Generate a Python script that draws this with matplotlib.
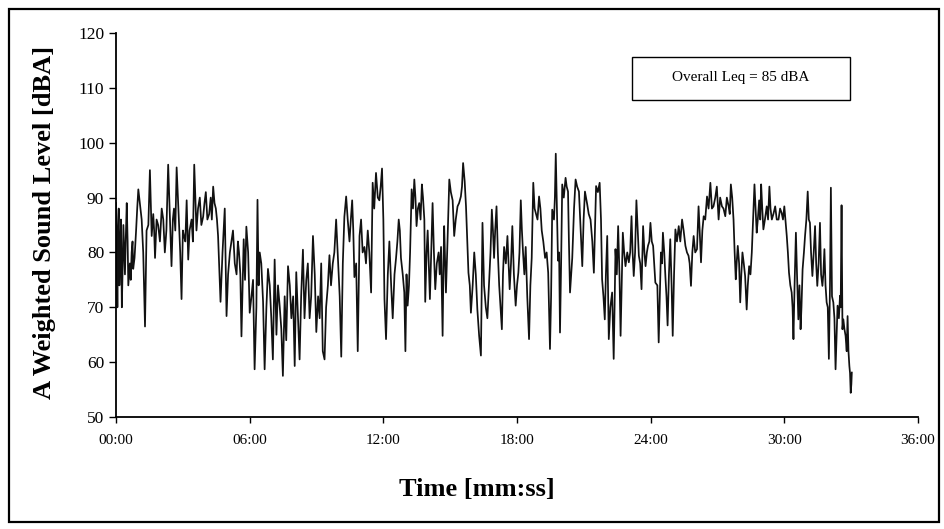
import numpy as np
import matplotlib
matplotlib.use("Agg")
import matplotlib.pyplot as plt
from matplotlib.patches import Rectangle

# sound level trace: time in minutes, level in dBA
# first pass: the spikes and dips
time_min = [
    0.00, 0.06, 0.12, 0.18, 0.26, 0.33, 0.40, 0.48, 0.55, 0.70, 0.77, 0.90,
    1.00, 1.15, 1.22, 1.30, 1.37, 1.52, 1.67, 1.75, 1.89, 2.05, 2.19, 2.34,
    2.49, 2.60, 2.72, 2.83, 2.94, 3.05, 3.17, 3.24, 3.39, 3.51, 3.61, 3.76,
    3.91, 4.03, 4.18, 4.36, 4.48, 4.58, 4.69, 4.88, 4.96, 5.11, 5.25, 5.41,
    5.52, 5.63, 5.73, 5.85, 6.00, 6.15, 6.22, 6.35, 6.45, 6.60, 6.67, 6.82,
    6.97, 7.04, 7.12, 7.27, 7.49, 7.57, 7.72, 7.87, 8.02, 8.09, 8.24, 8.39,
    8.54, 8.69, 8.84, 8.99,
    9.21, 9.28, 9.36, 9.51, 9.58, 9.73, 9.88, 9.96, 10.11, 10.25, 10.33, 10.48,
    10.60, 10.70, 10.85, 10.93, 11.00, 11.15, 11.30, 11.45, 11.52, 11.67, 11.82,
    11.94, 12.05, 12.12, 12.27, 12.42, 12.57, 12.69, 12.79, 12.94, 12.99, 13.09,
    13.20, 13.27, 13.39, 13.49, 13.61, 13.73, 13.84, 13.88, 13.99, 14.09, 14.21,
    14.33, 14.48, 14.59, 14.66, 14.73, 14.81, 14.96, 15.11, 15.18, 15.33, 15.48,
    15.58, 15.71, 15.82, 15.93, 16.08, 16.22, 16.30, 16.38, 16.45, 16.52, 16.67,
    16.75, 16.87, 16.97, 17.08, 17.20, 17.32, 17.42, 17.57, 17.67, 17.79, 17.94,
    18.06, 18.17, 18.27, 18.39, 18.54, 18.66, 18.73, 18.84, 18.99, 19.11, 19.26,
    19.40, 19.48, 19.58, 19.66, 19.74, 19.84, 19.93, 20.03, 20.18, 20.29, 20.38,
    20.48, 20.63, 20.78, 20.93, 21.05, 21.15, 21.30, 21.45, 21.55, 21.71, 21.82,
    21.94, 22.05, 22.12, 22.27, 22.34, 22.42, 22.54, 22.65, 22.75, 22.87, 23.02,
    23.14, 23.24, 23.36, 23.47, 23.59, 23.66, 23.77, 23.88, 23.99, 24.11, 24.21,
    24.36, 24.46, 24.55, 24.66, 24.76, 24.88, 24.99, 25.11, 25.26, 25.41, 25.56,
    25.70, 25.81, 25.93, 26.08, 26.15, 26.26, 26.38, 26.53, 26.68, 26.82, 26.97,
    27.05, 27.20, 27.35, 27.50, 27.60, 27.72, 27.82, 27.91, 28.02, 28.12, 28.24,
    28.31, 28.42, 28.54, 28.66, 28.76, 28.87, 28.96, 29.06, 29.21, 29.33, 29.44,
    29.59, 29.74, 29.88, 30.00, 30.11, 30.21, 30.33, 30.41, 30.52, 30.63, 30.73,
    30.82, 30.93, 31.05, 31.15, 31.26, 31.38, 31.48, 31.60, 31.71, 31.80, 31.90,
    32.00, 32.09, 32.20, 32.30, 32.39, 32.50, 32.57, 32.65, 32.75, 32.84, 32.92,
    32.98, 33.03,
]
level_dba = [
    89, 70, 88, 78.7, 70, 85, 76, 89, 74, 80, 77, 84,
    91.5, 86, 80, 66.5, 84, 95, 87, 79, 85, 88, 80, 96,
    77.5, 88, 95.5, 85, 71.5, 83, 89.5, 78.7, 86, 96, 84, 90,
    86.5, 91, 87, 92, 88, 83, 71, 88, 68.4, 80, 84, 76,
    80, 64.7, 82.4, 84.7, 69, 75, 58.7, 89.6, 80, 71, 58.7, 77,
    68, 60.5, 78.7, 74, 57.5, 72, 77.5, 68, 59.3, 76.4, 60.5, 80.5,
    75, 68, 83, 65.5,
    78, 62, 60.5, 74, 79.5, 78, 86, 79, 61, 86.5, 90.2, 82,
    89.5, 75.5, 62, 83, 86, 81, 84, 72.7, 92.7, 94.5, 89.5,
    95.3, 71.5, 64.2, 82, 68, 79, 86, 79, 72.7, 62, 70.3,
    80, 91.5, 93.3, 84.8, 89, 92.4, 86, 71, 84, 71.5, 89,
    73.3, 80, 81, 64.8, 84.8, 72.7, 93.3, 89.5, 83, 88.4, 90.2,
    96.3, 88.4, 76.3, 69, 80, 69.6, 64.8, 61.2, 85.4, 74, 68,
    75.1, 87.8, 79, 88.4, 74, 66, 81, 83, 73.3, 84.8, 70.3,
    76.3, 89.5, 80, 81, 64.2, 79, 92.7, 87.2, 90.2, 84, 79,
    76.3, 62.4, 87.8, 86, 98, 78.5, 65.4, 92.4, 93.6, 91.1, 72.7,
    79, 93.3, 91.1, 77.5, 91.1, 88.8, 86, 76.3, 92.1, 92.7, 75.1,
    67.8, 83, 64.2, 72.7, 60.6, 80.6, 84.8, 64.8, 83.6, 77.5, 78.2,
    86.6, 75.7, 89.5, 79.4, 73.3, 84.8, 77.5, 81.2, 85.4, 81.2, 74.5,
    63.6, 80, 83.6, 75.7, 66.7, 82.4, 64.8, 84.2, 84.8, 86, 81.2,
    79.4, 73.9, 83, 80.6, 88.4, 78.2, 86.6, 90.2, 92.7, 88.4, 92,
    86, 88.4, 86.6, 88.4, 92.4, 86, 75.1, 81.2, 70.9, 80, 75.7,
    69.6, 77.5, 80, 92.4, 83.6, 89.5, 92.4, 84.2, 88.4, 92, 86,
    88.4, 86, 87.2, 88.4, 83, 76.3, 72.7, 64.2, 83.6, 67.8, 66,
    76.9, 83, 91.1, 85.4, 75.7, 84.8, 73.9, 85.4, 73.9, 80.6, 70.9,
    60.6, 91.8, 70.9, 58.7, 70.3, 72.1, 88.6, 67.8, 64.8, 68.4, 59.3,
    54.4, 58.1,
]

# second pass: readings inside the dark band between the spikes
band_time_min = [
    0.03, 0.09, 0.15, 0.22, 0.30, 0.37, 0.44, 0.52, 0.62, 0.66, 0.74, 0.83, 0.95,
    1.45, 1.60, 1.71, 1.82, 1.97, 2.12, 2.26,
    2.55, 2.66, 2.78, 2.88, 3.00, 3.11, 3.30, 3.45,
    3.68, 3.83, 3.97, 4.10, 4.25, 4.30, 4.42, 4.53,
    4.78, 5.03, 5.18, 5.33, 5.47, 5.58, 5.79, 5.93,
    6.08, 6.30, 6.40, 6.52, 6.75, 6.90, 7.08, 7.20, 7.35, 7.42, 7.64, 7.80,
    7.95, 8.15, 8.31, 8.46, 8.61, 8.76, 8.92,
    9.07, 9.14, 9.43, 9.65, 9.80, 10.04, 10.18, 10.40, 10.54, 10.65, 10.78,
    11.07, 11.22, 11.37, 11.59, 11.75, 11.88, 12.00,
    12.20, 12.35, 12.50, 12.63, 12.74, 12.87, 13.04, 13.15, 13.33, 13.44, 13.55,
    13.67, 13.78, 13.94, 14.04, 14.15, 14.27, 14.40, 14.53, 14.70, 14.88, 15.03,
    15.25, 15.40, 15.53, 15.65,
    15.88, 16.01, 16.15, 16.60, 16.81, 16.92, 17.02, 17.14, 17.26, 17.37, 17.50,
    17.62, 17.73, 17.86, 18.00,
    18.11, 18.22, 18.33, 18.46, 18.60, 18.79, 18.92, 19.05, 19.18, 19.33, 19.53,
    19.70, 19.79, 19.89, 19.98, 20.10, 20.23, 20.33, 20.43, 20.56, 20.70, 20.86,
    20.99, 21.10, 21.22, 21.38,
    21.50, 21.63, 21.77, 21.88, 21.99, 22.19, 22.38, 22.48, 22.60, 22.70, 22.81,
    22.95, 23.08, 23.19, 23.30, 23.42, 23.53, 23.72, 23.83, 23.94, 24.05, 24.16,
    24.30, 24.41, 24.51, 24.61, 24.71, 24.82, 24.94, 25.05, 25.18, 25.33, 25.48,
    25.63, 25.75, 25.87, 26.00, 26.20, 26.32, 26.45, 26.60, 26.75, 26.90,
    27.12, 27.27, 27.42, 27.55, 27.66, 27.77, 27.86, 27.97, 28.07, 28.18, 28.36,
    28.48, 28.60, 28.71, 28.81, 28.92, 29.01, 29.13, 29.27, 29.38, 29.51, 29.66,
    29.81, 29.94, 30.05,
    30.16, 30.27, 30.37, 30.46, 30.57, 30.68, 30.77, 30.88, 30.99, 31.10, 31.20,
    31.32, 31.43, 31.54, 31.65, 31.75, 31.85, 31.95, 32.05, 32.14, 32.25, 32.34,
    32.45, 32.53, 32.61, 32.70, 32.80, 32.88, 32.95, 33.01,
]
band_level_dba = [
    82, 84, 74, 86, 78, 80, 83, 82, 78, 75, 82, 79, 88,
    85, 83, 84, 86, 82, 86, 84,
    86, 84, 90, 80, 84, 82, 84, 82,
    88, 85, 89, 86, 90, 86, 89, 86,
    80, 76, 82, 78, 82, 76, 75, 80,
    72, 70, 74, 78, 70, 74, 70, 65, 70, 66, 64, 74,
    72, 70, 72, 68, 78, 72, 76,
    72, 68, 70, 74, 80, 72, 78, 86, 86, 84, 78,
    80, 78, 80, 88, 90, 92, 86,
    76, 74, 76, 82, 84, 76, 76, 74, 88, 90, 88,
    86, 90, 80, 78, 80, 80, 78, 76, 78, 82, 91,
    86, 89, 92, 93,
    74, 74, 76, 70, 80, 84, 84, 80, 70, 76, 78,
    78, 78, 76, 74,
    80, 84, 76, 72, 74, 88, 86, 88, 82, 80, 72,
    90, 88, 80, 78, 90, 92, 82, 76, 88, 92, 84,
    86, 90, 87, 82,
    84, 91, 86, 72, 76, 70, 70, 76, 76, 74, 80,
    80, 80, 80, 80, 84, 78, 80, 80, 82, 82, 78,
    74, 72, 78, 80, 72, 76, 74, 76, 82, 82, 84,
    80, 78, 80, 80, 84, 84, 86, 88, 88, 90,
    90, 88, 90, 87, 90, 80, 78, 78, 76, 78, 74,
    76, 86, 88, 86, 86, 88, 86, 86, 88, 87, 86,
    88, 86, 86,
    80, 74, 70, 74, 76, 74, 70, 80, 86, 86, 80,
    80, 78, 78, 76, 76, 74, 70, 74, 72, 68, 64,
    68, 70, 66, 66, 62, 62, 58, 56,
]

x_ticks = [0, 6, 12, 18, 24, 30, 36]
x_labels = ["00:00", "06:00", "12:00", "18:00", "24:00", "30:00", "36:00"]
y_ticks = [50, 60, 70, 80, 90, 100, 110, 120]
leq_text = "Overall Leq = 85 dBA"

# merge both passes into one time-ordered trace
t_all = np.array(time_min + band_time_min)
lv_all = np.array(level_dba + band_level_dba)
order = np.argsort(t_all, kind='stable')
t_all = t_all[order]
lv_all = lv_all[order]

plt.rcParams['font.family'] = ['Liberation Serif', 'DejaVu Serif']

fig = plt.figure(figsize=(9.45, 5.29), dpi=100)
ax = fig.add_axes([0.1228, 0.2117, 0.8486, 0.7259])

ax.plot(t_all, lv_all, color='#111111', linewidth=1.25)

ax.set_xlim(0, 36)
ax.set_ylim(50, 120)
ax.set_xticks(x_ticks)
ax.set_xticklabels(x_labels, fontsize=11)
ax.set_yticks(y_ticks)
ax.tick_params(axis='y', labelsize=12.5, direction='out', length=5, width=1)
ax.tick_params(axis='x', direction='out', length=4, width=1, pad=8)

for side in ['top', 'right']:
    ax.spines[side].set_visible(False)
for side in ['left', 'bottom']:
    ax.spines[side].set_linewidth(1.3)

fig.text(0.047, 0.58, "A Weighted Sound Level [dBA]", rotation=90,
         ha='center', va='center', fontsize=19, fontweight='bold')
fig.text(0.505, 0.074, "Time [mm:ss]", ha='center', va='center',
         fontsize=19, fontweight='bold')

# Leq box
fig.patches.append(Rectangle((0.669, 0.811), 0.231, 0.081, transform=fig.transFigure,
                             fill=False, edgecolor='black', linewidth=1.0))
fig.text(0.784, 0.853, leq_text, ha='center', va='center', fontsize=11)

# outer chart frame
fig.patches.append(Rectangle((0.009, 0.013), 0.985, 0.97, transform=fig.transFigure,
                             fill=False, edgecolor='black', linewidth=1.6))

fig.savefig("out.png", dpi=100)
